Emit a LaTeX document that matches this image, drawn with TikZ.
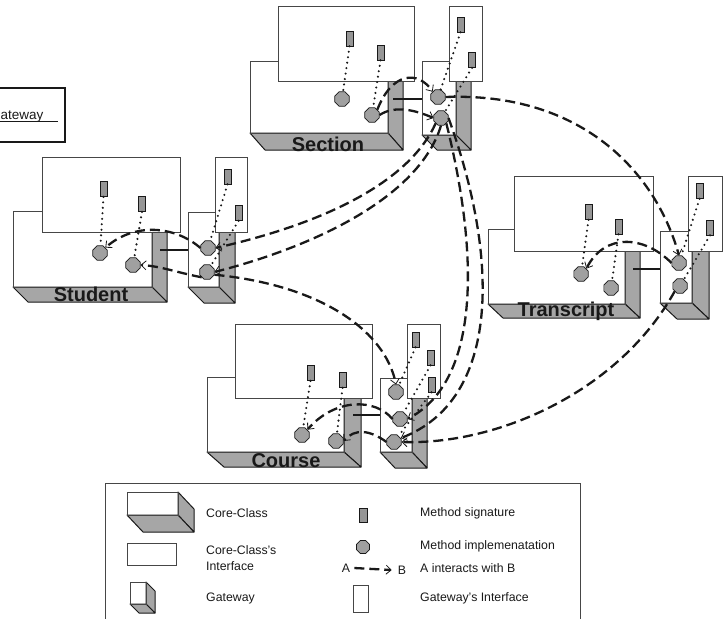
\documentclass[tikz,border=0pt]{standalone}
\usepackage{fontspec}
\setmainfont{Liberation Sans}
\usetikzlibrary{arrows.meta,shapes.geometric}
\definecolor{facegray}{RGB}{166,166,166}
\definecolor{siggray}{RGB}{150,150,150}
\definecolor{implgray}{RGB}{160,160,160}
\definecolor{linec}{RGB}{25,25,25}
\definecolor{thinc}{RGB}{70,70,70}
\newcommand\drawcube[6]{%
  \fill[white] (#1,#2) rectangle (#3,#4);
  \filldraw[fill=facegray,draw=linec,line width=1pt,line join=round] (#3,#2) -- ({#3+#5},{#2+#6}) -- ({#3+#5},{#4+#6}) -- (#3,#4) -- cycle;
  \filldraw[fill=facegray,draw=linec,line width=1pt,line join=round] (#1,#4) -- (#3,#4) -- ({#3+#5},{#4+#6}) -- ({#1+#5},{#4+#6}) -- cycle;
  \draw[thinc,line width=0.7pt] (#1,#2) rectangle (#3,#4);
}
\begin{document}
\begin{tikzpicture}[x=1pt,y=-1pt,
  sig/.style={draw=linec,fill=siggray,line width=0.7pt,minimum width=7pt,minimum height=15pt,inner sep=0pt},
  impl/.style={draw=linec,fill=implgray,line width=0.7pt,regular polygon,regular polygon sides=8,minimum size=15.5pt,inner sep=0pt},
  iface/.style={draw=thinc,fill=white,line width=0.8pt},
  dotl/.style={line width=2.3pt,dash pattern=on 0pt off 5.5pt,line cap=round,linec},
  link/.style={line width=2.6pt,linec},
  inter/.style={line width=2.3pt,linec,dash pattern=on 10pt off 5pt,-{Straight Barb[length=5pt,width=9pt,line width=0.8pt]}},
  cls/.style={font=\bfseries\fontsize{20}{20}\selectfont,anchor=base,inner sep=0pt,text=linec},
  leg/.style={font=\fontsize{12.3}{16}\selectfont,anchor=west,inner sep=0pt,align=left,text=linec}]
\useasboundingbox (0,0) rectangle (727,618);
\clip (0,0) rectangle (727,618);

% ---------- cubes (core classes and gateways)
\drawcube{250}{61}{388}{133}{15}{17}
\drawcube{422}{61}{456}{135}{15}{15}
\drawcube{13}{211}{152}{287}{15}{15}
\drawcube{188}{212}{219}{287}{16}{16}
\drawcube{488}{229}{625}{304}{15}{14}
\drawcube{660}{231}{692}{303}{17}{16}
\drawcube{207}{377}{344}{452}{17}{15}
\drawcube{380}{378}{412}{452}{15}{16}

% ---------- interfaces
\draw[iface] (278,6) rectangle (414,81);
\draw[iface] (449,6) rectangle (482,81);
\draw[iface] (42,157) rectangle (180,232);
\draw[iface] (215,157) rectangle (247,232);
\draw[iface] (514,176) rectangle (653,251);
\draw[iface] (688,176) rectangle (722,251);
\draw[iface] (235,324) rectangle (372,398);
\draw[iface] (407,324) rectangle (440,398);

% ---------- class labels
\node[cls] (secL) at (328,151) {Section};
\node[cls] (stuL) at (91,301) {Student};
\node[cls] (trL) at (566,316) {Transcript};
\node[cls] (coL) at (286,467) {Course};

% ---------- core to gateway links
\coordinate (secA) at (393,99);  \coordinate (secB) at (422,99);
\coordinate (stuA) at (160,250); \coordinate (stuB) at (188,250);
\coordinate (trA) at (633,269);  \coordinate (trB) at (660,269);
\coordinate (coA) at (353,415);  \coordinate (coB) at (380,415);
\draw[link] (secA) -- (secB);
\draw[link] (stuA) -- (stuB);
\draw[link] (trA) -- (trB);
\draw[link] (coA) -- (coB);

% ---------- method signatures and implementations
\node[sig] (secS1) at (349.5,38.5) {};
\node[sig] (secS2) at (380.5,52.5) {};
\node[impl] (secM1) at (342,99) {};
\node[impl] (secM2) at (372,115) {};
\node[sig] (secgS1) at (460.5,24.5) {};
\node[sig] (secgS2) at (472,60) {};
\node[impl] (secgM1) at (438,97) {};
\node[impl] (secgM2) at (441,118) {};

\node[sig] (stuS1) at (103.5,189) {};
\node[sig] (stuS2) at (142,204) {};
\node[impl] (stuM1) at (100,253) {};
\node[impl] (stuM2) at (133,265) {};
\node[sig] (stugS1) at (227.5,176.5) {};
\node[sig] (stugS2) at (238.5,213) {};
\node[impl] (stugM1) at (208,248) {};
\node[impl] (stugM2) at (207,272) {};

\node[sig] (trS1) at (588.5,212) {};
\node[sig] (trS2) at (618.5,226.5) {};
\node[impl] (trM1) at (581,274) {};
\node[impl] (trM2) at (611,288) {};
\node[sig] (trgS1) at (699.5,191) {};
\node[sig] (trgS2) at (710,227.5) {};
\node[impl] (trgM1) at (679,263) {};
\node[impl] (trgM2) at (680,286) {};

\node[sig] (coS1) at (310.5,373) {};
\node[sig] (coS2) at (342.5,380) {};
\node[impl] (coM1) at (302,435) {};
\node[impl] (coM2) at (336,441) {};
\node[sig] (cogS1) at (415.5,339.5) {};
\node[sig] (cogS2) at (430.5,357.5) {};
\node[sig] (cogS3) at (431.5,384.5) {};
\node[impl] (cogM1) at (396,392) {};
\node[impl] (cogM2) at (400,419) {};
\node[impl] (cogM3) at (394,442) {};

% ---------- dotted signature-implementation links
\draw[dotl] (secS1.south) -- (secM1);
\draw[dotl] (secS2.south) -- (secM2);
\draw[dotl] (secgS1.south) -- (secgM1);
\draw[dotl] (secgS2.south) -- (secgM2);
\draw[dotl] (stuS1.south) -- (stuM1);
\draw[dotl] (stuS2.south) -- (stuM2);
\draw[dotl] (stugS1.south) -- (stugM1);
\draw[dotl] (stugS2.south) -- (stugM2);
\draw[dotl] (trS1.south) -- (trM1);
\draw[dotl] (trS2.south) -- (trM2);
\draw[dotl] (trgS1.south) -- (trgM1);
\draw[dotl] (trgS2.south) -- (trgM2);
\draw[dotl] (coS1.south) -- (coM1);
\draw[dotl] (coS2.south) -- (coM2);
\draw[dotl] (cogS1.south) -- (cogM1);
\draw[dotl] (cogS2.south) -- (cogM2);
\draw[dotl] (cogS3.south) -- (cogM3);

% ---------- interactions
\draw[inter] (secM2.east) .. controls (395,105) and (415,110) .. (secgM2.west);
\draw[inter] (secM2.north east) .. controls (392,72) and (418,70) .. (secgM1.north west);
\draw[inter] (stugM1.west) .. controls (175,226) and (135,222) .. (stuM1.north east);
\draw[inter] (stugM2.south west) .. controls (175,272) and (160,266) .. (stuM2.east);
\draw[inter] (secgM2.south west) .. controls (410,180) and (330,222) .. (stugM1.east);
\draw[inter] (secgM2.south) .. controls (420,195) and (320,245) .. (stugM2.east);
\draw[inter] (stugM2.-20) .. controls (320,285) and (385,330) .. (cogM1.north);
\draw[inter] (secgM2.south east) .. controls (478,250) and (482,380) .. (cogM2.east);
\draw[inter] (secgM2.east) .. controls (500,260) and (500,400) .. (cogM3.30);
\draw[inter] (secgM1.east) .. controls (580,92) and (655,170) .. (trgM1.north);
\draw[inter] (trgM1.west) .. controls (645,236) and (605,232) .. (trM1.north east);
\draw[inter] (trgM2.south west) .. controls (620,390) and (500,445) .. (cogM3.east);
\draw[inter] (cogM2.west) .. controls (375,398) and (335,398) .. (coM1.north east);
\draw[inter] (cogM3.west) .. controls (370,430) and (355,428) .. (coM2.east);

% ---------- partial gateway box at top left
\draw[linec,line width=1.2pt] (-5,88) rectangle (65,142);
\node[font=\fontsize{13.5}{14}\selectfont,anchor=base west,inner sep=0pt,text=linec] (gwlbl) at (0.5,119) {ateway};
\draw[linec,line width=0.8pt] (0,121) -- (58,121);

% ---------- legend
\draw[thinc,line width=0.8pt] (105,483) rectangle (580,640);
\drawcube{127}{492}{178}{515}{16}{17}
\node[leg] (l1) at (206,513) {Core-Class};
\draw[iface] (127,543) rectangle (176,565);
\node[leg] (l2) at (206,558) {Core-Class's\\Interface};
\drawcube{130}{582}{146}{604}{9}{9}
\node[leg] (l3) at (206,598) {Gateway};
\node[sig,minimum width=8pt,minimum height=14pt] (lsig) at (363,515) {};
\node[leg] (l4) at (420,513) {Method signature};
\node[impl,minimum size=14pt] (limpl) at (363,547) {};
\node[leg] (l5) at (420,546) {Method implemenatation};
\node[leg,anchor=center] (lA) at (346,568) {A};
\node[leg,anchor=center] (lB) at (402,570) {B};
\draw[inter] ([xshift=4pt]lA.east) -- ([xshift=-6pt]lB.west);
\node[leg] (l6) at (420,568) {A interacts with B};
\draw[iface] (353,585) rectangle (368,612);
\node[leg] (l7) at (420,598) {Gateway's Interface};
\end{tikzpicture}
\end{document}
